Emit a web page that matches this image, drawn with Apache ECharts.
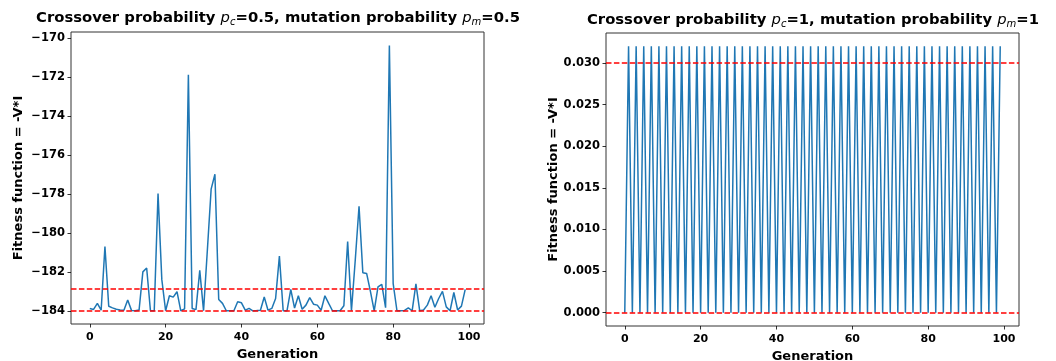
<!DOCTYPE html>
<html lang="en">
  <head>
    <meta charset="UTF-8" />
    <title>Fitness per generation</title>
    <script src="https://cdn.jsdelivr.net/npm/echarts@6/dist/echarts.min.js"></script>
  </head>
  <style>
    html,
    body {
      margin: 0;
      padding: 0;
      background: #fff;
    }
    #echart {
      width: 1056px;
      height: 361px;
    }
  </style>
  <body>
    <div id="echart"></div>
  </body>
  <script>
    // pc = 0.5, pm = 0.5 : one value per generation 0..99
    const fitnessA = [
      -183.88, -183.93, -183.62, -183.97, -180.7, -183.77, -183.85, -183.92, -183.96, -183.97,
      -183.45, -183.98, -184.0, -183.96, -182.0, -181.8, -184.0, -184.0, -177.97, -182.4,
      -184.0, -183.23, -183.3, -183.02, -184.0, -183.9, -171.87, -183.88, -183.94, -181.92,
      -184.0, -180.9, -177.75, -176.98, -183.42, -183.62, -184.0, -184.0, -184.0, -183.54,
      -183.59, -183.97, -183.88, -184.0, -183.99, -183.97, -183.29, -183.97, -183.88, -183.37,
      -181.19, -184.0, -184.0, -182.9, -183.86, -183.23, -183.92, -183.71, -183.32, -183.66,
      -183.71, -183.97, -183.23, -183.62, -184.0, -184.0, -184.0, -183.74, -180.44, -184.0,
      -181.4, -178.63, -182.04, -182.08, -183.0, -184.0, -182.77, -182.64, -183.84, -170.36,
      -182.6, -184.0, -184.0, -183.98, -183.85, -184.0, -182.62, -184.0, -183.96, -183.71,
      -183.23, -183.82, -183.37, -183.0, -183.8, -184.0, -183.06, -183.96, -183.76, -182.9,
    ];
    const refLinesA = [-182.87, -184.0];
    const yTicksA = [-184, -182, -180, -178, -176, -174, -172, -170];

    // pc = 1, pm = 1 : one value per generation 0..99
    const fitnessB = [
      0, 0.032, 0, 0.032, 0, 0.032, 0, 0.032, 0, 0.032,
      0, 0.032, 0, 0.032, 0, 0.032, 0, 0.032, 0, 0.032,
      0, 0.032, 0, 0.032, 0, 0.032, 0, 0.032, 0, 0.032,
      0, 0.032, 0, 0.032, 0, 0.032, 0, 0.032, 0, 0.032,
      0, 0.032, 0, 0.032, 0, 0.032, 0, 0.032, 0, 0.032,
      0, 0.032, 0, 0.032, 0, 0.032, 0, 0.032, 0, 0.032,
      0, 0.032, 0, 0.032, 0, 0.032, 0, 0.032, 0, 0.032,
      0, 0.032, 0, 0.032, 0, 0.032, 0, 0.032, 0, 0.032,
      0, 0.032, 0, 0.032, 0, 0.032, 0, 0.032, 0, 0.032,
      0, 0.032, 0, 0.032, 0, 0.032, 0, 0.032, 0, 0.032,
    ];
    const refLinesB = [0.03, 0.0];
    const yTicksB = [0, 0.005, 0.01, 0.015, 0.02, 0.025, 0.03];

    const xTicks = [0, 20, 40, 60, 80, 100];

    const font = "DejaVu Sans";
    const chart = echarts.init(document.getElementById("echart"));

    function xAxis(gridIndex) {
      return {
        type: "value",
        gridIndex: gridIndex,
        min: -4.95,
        max: 103.95,
        name: "Generation",
        nameLocation: "middle",
        nameGap: 24,
        nameTextStyle: { fontFamily: font, fontWeight: "bold", fontSize: 13, color: "#000" },
        axisLine: { show: false, onZero: false },
        splitLine: { show: false },
        axisTick: { customValues: xTicks, length: 3.5, lineStyle: { color: "#000", width: 0.8 } },
        axisLabel: {
          customValues: xTicks,
          margin: 8,
          fontFamily: font,
          fontWeight: "bold",
          fontSize: 11,
          color: "#000",
        },
      };
    }

    function yAxis(gridIndex, min, max, ticks, fmt, gap) {
      return {
        type: "value",
        gridIndex: gridIndex,
        min: min,
        max: max,
        name: "Fitness function = -V*I",
        nameLocation: "middle",
        nameGap: gap,
        nameTextStyle: { fontFamily: font, fontWeight: "bold", fontSize: 13, color: "#000" },
        axisLine: { show: false, onZero: false },
        splitLine: { show: false },
        axisTick: { customValues: ticks, length: 3.5, lineStyle: { color: "#000", width: 0.8 } },
        axisLabel: {
          customValues: ticks,
          margin: 6,
          fontFamily: font,
          fontWeight: "bold",
          fontSize: 11.5,
          color: "#000",
          formatter: fmt,
        },
      };
    }

    function series(idx, values, refs) {
      return {
        type: "line",
        xAxisIndex: idx,
        yAxisIndex: idx,
        data: values.map((v, i) => [i, v]),
        showSymbol: false,
        lineStyle: { color: "#1f77b4", width: 1.5 },
        markLine: {
          silent: true,
          symbol: "none",
          label: { show: false },
          lineStyle: { color: "#ff0000", type: [5.5, 2.4], width: 1.5 },
          data: refs.map((r) => ({ yAxis: r })),
        },
      };
    }

    function titleText(pc, pm) {
      return "{b|Crossover probability }{i|p}{s|c}{b|=" + pc + ", mutation probability }{i|p}{s|m}{b|=" + pm + "}";
    }

    const titleRich = {
      b: { fontFamily: font, fontWeight: "bold", fontSize: 14.8, color: "#000", verticalAlign: "top" },
      i: { fontFamily: font, fontStyle: "italic", fontSize: 14.8, color: "#000", verticalAlign: "top" },
      s: { fontFamily: font, fontStyle: "italic", fontSize: 10, color: "#000", verticalAlign: "top", padding: [6, 0, 0, 0] },
    };

    var option = {
      animation: false,
      grid: [
        { left: 71, top: 32, width: 413, height: 292, outerBoundsMode: "none", show: true, borderColor: "#333", borderWidth: 1, backgroundColor: "transparent" },
        { left: 606, top: 33, width: 413, height: 293, outerBoundsMode: "none", show: true, borderColor: "#333", borderWidth: 1, backgroundColor: "transparent" },
      ],
      graphic: [
        {
          type: "text",
          x: 278,
          y: 11,
          style: { text: titleText("0.5", "0.5"), rich: titleRich, align: "center" },
        },
        {
          type: "text",
          x: 813,
          y: 13,
          style: { text: titleText("1", "1"), rich: titleRich, align: "center" },
        },
      ],
      xAxis: [xAxis(0), xAxis(1)],
      yAxis: [
        yAxis(0, -184.68, -169.67, yTicksA, (v) => String(v).replace("-", "\u2212"), 46),
        yAxis(1, -0.0016, 0.0336, yTicksB, (v) => v.toFixed(3), 46),
      ],
      series: [series(0, fitnessA, refLinesA), series(1, fitnessB, refLinesB)],
    };

    chart.setOption(option);
  </script>
</html>
